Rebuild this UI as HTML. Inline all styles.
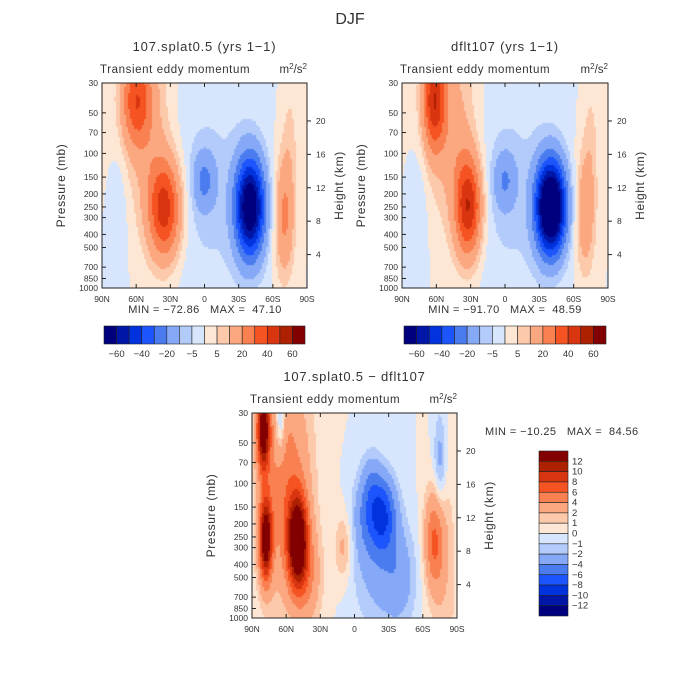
<!DOCTYPE html>
<html><head><meta charset="utf-8"><style>
body{margin:0;background:#fff;width:700px;height:700px;overflow:hidden;position:relative;font-family:"Liberation Sans",sans-serif}
canvas{position:absolute}
svg{position:absolute;left:0;top:0}
text{font-family:"Liberation Sans",sans-serif;fill:#333;white-space:pre}
</style></head><body>
<canvas id="c1"></canvas>
<canvas id="c2"></canvas>
<canvas id="c3"></canvas>
<svg id="s" width="700" height="700"></svg>
<script>
// blobs: [lat, pressure(mb), amplitude, sigmaLat, sigmaLnP]
const blobs1Lat=[60,35,50,0,-40,-70,-5,75,-75];
const blobs1P=[40,260,60,160,250,300,200,300,80];
const blobs1Amp=[32,45,12,-18,-72,22,-6,-5,6];
const blobs1SLat=[9,10,14,7,9,6,28,5,5];
const blobs1SLp=[0.55,0.6,1.2,0.35,0.6,0.7,1.5,0.8,0.8];
const blobs2Lat=[62,32,45,0,-40,-70,-5,75,-75];
const blobs2P=[40,250,70,160,250,280,200,300,80];
const blobs2Amp=[45,48,14,-16,-91,18,-6,-5,6];
const blobs2SLat=[7,8,14,7,9,6,28,5,5];
const blobs2SLp=[0.6,0.6,1.2,0.35,0.55,0.7,1.5,0.8,0.8];
const blobs3Lat=[80,78,50,60,40,-10,-25,-20,-70,-75,65,10,-40,-15,-80];
const blobs3P=[40,260,270,100,500,170,170,400,270,70,35,300,500,100,500];
const blobs3Amp=[14,14,15,5,3,-3,-7,-2.5,6,-3,-4,2.5,-2.5,-2,1.5];
const blobs3SLat=[4,4,6,15,8,8,8,15,6,4,3,5,10,6,8];
const blobs3SLp=[0.5,0.5,0.55,1.4,0.6,0.5,0.45,0.8,0.6,0.6,0.4,0.4,0.6,0.4,1.5];
const levels1=[-60,-50,-40,-30,-20,-10,-5,0,5,10,20,30,40,50,60];
const levels3=[-12,-10,-8,-6,-4,-2,-1,0,1,2,4,6,8,10,12];
const palette=["#00007f","#0016a6","#0033dd","#1c55fb","#4a7cf0","#86a9f7","#b3cbfa","#d7e6fc","#fde7d4","#fcc9ab","#fba780","#f98050","#f55322","#d93510","#ad2000","#830000"];
const pTicks=[30,50,70,100,150,200,250,300,400,500,700,850,1000];
const latTicks=[90,60,30,0,-30,-60,-90];
const latLabels=["90N","60N","30N","0","30S","60S","90S"];
const hTicks=[4,8,12,16,20];
const lab1=["-60","-40","-20","-5","5","20","40","60"];
const lab1Idx=[0,2,4,6,8,10,12,14];

const NS="http://www.w3.org/2000/svg";
const svg=document.getElementById('s');
function el(tag,attrs,txt,name,inter){const e=document.createElementNS(NS,tag);for(const k in attrs)e.setAttribute(k,attrs[k]);if(txt!=null)e.textContent=txt;


svg.appendChild(e);return e;}

function field(la,p,B){let v=0;const lp=Math.log(p);for(let i=0;i<B[0].length;i++){const dl=(la-B[0][i])/B[3][i];const dp=(lp-Math.log(B[1][i]))/B[4][i];v+=B[2][i]*Math.exp(-0.5*(dl*dl+dp*dp));}return v;}
function colorFor(v,lv){let i=0;while(i<lv.length&&v>=lv[i])i++;return palette[i];}

function panel(id,x0,y0,w,h,B,lv,title,cfg){
  const xS=la=>x0+(90-la)/180*w;
  const yS=p=>y0+(Math.log(p)-Math.log(30))/(Math.log(1000)-Math.log(30))*h;
  const c=document.getElementById(id);c.width=w;c.height=h;c.style.left=x0+'px';c.style.top=y0+'px';
  const ctx=c.getContext('2d');const cs=2;
  for(let px=0;px<w;px+=cs)for(let py=0;py<h;py+=cs){
    const la=90-(px+cs/2)/w*180;const p=Math.exp(Math.log(30)+(py+cs/2)/h*(Math.log(1000)-Math.log(30)));
    ctx.fillStyle=colorFor(field(la,p,B),lv);ctx.fillRect(px,py,cs,cs);}
  el('rect',{x:x0,y:y0,width:w,height:h,fill:'none',stroke:'#222','stroke-width':1},null,'plot-frame');
  el('text',{x:x0+w/2,y:y0-32,'font-size':13,'text-anchor':'middle','letter-spacing':0.8},title,'panel-title');
  el('text',{x:x0-2,y:y0-10,'font-size':11.5,'letter-spacing':0.6},'Transient eddy momentum','variable-label');
  const u=el('text',{x:x0+w,y:y0-10,'font-size':11.5,'text-anchor':'end'},null,'units-label');
  u.innerHTML='m<tspan dy="-4" font-size="8">2</tspan><tspan dy="4">/s</tspan><tspan dy="-4" font-size="8">2</tspan>';
  pTicks.forEach(p=>{const y=yS(p);el('line',{x1:x0,x2:x0+4,y1:y,y2:y,stroke:'#222'},null,'y-tick');
    el('text',{x:x0-4,y:y+3,'font-size':8.5,'text-anchor':'end'},String(p),'y-tick-label');});
  latTicks.forEach((la,i)=>{const x=xS(la);el('line',{x1:x,x2:x,y1:y0+h,y2:y0+h-4,stroke:'#222'},null,'x-tick');
    el('line',{x1:x,x2:x,y1:y0,y2:y0+4,stroke:'#222'},null,'x-tick-top');
    el('text',{x:x,y:y0+h+14,'font-size':8.5,'text-anchor':'middle'},latLabels[i],'x-tick-label');});
  hTicks.forEach(hk=>{const y=yS(1000*Math.exp(-hk/7));el('line',{x1:x0+w,x2:x0+w+4,y1:y,y2:y,stroke:'#222'},null,'height-tick');
    el('text',{x:x0+w+9,y:y+3,'font-size':8.5},String(hk),'height-tick-label');});
  el('text',{x:0,y:0,'font-size':12,'text-anchor':'middle','letter-spacing':0.6,transform:`translate(${x0-37},${y0+h/2}) rotate(-90)`},'Pressure (mb)','y-axis-title');
  el('text',{x:0,y:0,'font-size':12,'text-anchor':'middle','letter-spacing':0.6,transform:`translate(${x0+w+36},${y0+h/2}) rotate(-90)`},'Height (km)','height-axis-title');
  el('text',{x:cfg.mx,y:cfg.my,'font-size':11,'text-anchor':cfg.anchor,'letter-spacing':0.4},cfg.mm,'min-max-label');
}
el('text',{x:350,y:24,'font-size':16,'text-anchor':'middle',fill:'#444'},'DJF','main-title');
panel('c1',102,83,205,205,[blobs1Lat,blobs1P,blobs1Amp,blobs1SLat,blobs1SLp],levels1,'107.splat0.5 (yrs 1\u22121)',{mx:205,my:313,anchor:'middle',mm:'MIN = \u221272.86   MAX =  47.10'});
panel('c2',402,83,206,205,[blobs2Lat,blobs2P,blobs2Amp,blobs2SLat,blobs2SLp],levels1,'dflt107 (yrs 1\u22121)',{mx:505,my:313,anchor:'middle',mm:'MIN = \u221291.70   MAX =  48.59'});
panel('c3',252,413,205,205,[blobs3Lat,blobs3P,blobs3Amp,blobs3SLat,blobs3SLp],levels3,'107.splat0.5 \u2212 dflt107',{mx:485,my:435,anchor:'start',mm:'MIN = \u221210.25   MAX =  84.56'});

function hbar(x0,y0,w,h){const bw=w/16;palette.forEach((c,i)=>{el('rect',{x:x0+i*bw,y:y0,width:bw,height:h,fill:c,stroke:'#222','stroke-width':0.6},null,'colorbar-box');});
  lab1.forEach((t,k)=>{el('text',{x:x0+(lab1Idx[k]+1)*bw,y:y0+h+13,'font-size':9.5,'text-anchor':'middle'},t.replace('-','\u2212'),'colorbar-label');});}
hbar(104,326,201,18);hbar(404,326,202,18);
(function(){const x0=539,y0=451,w=29,h=165,bh=h/16;
 palette.slice().reverse().forEach((c,i)=>{el('rect',{x:x0,y:y0+i*bh,width:w,height:bh,fill:c,stroke:'#222','stroke-width':0.6},null,'colorbar-box');});
 levels3.slice().reverse().forEach((v,i)=>{el('text',{x:x0+w+4,y:y0+(i+1)*bh+3,'font-size':9.5},String(v).replace('-','\u2212'),'colorbar-label');});})();
</script>
</body></html>
